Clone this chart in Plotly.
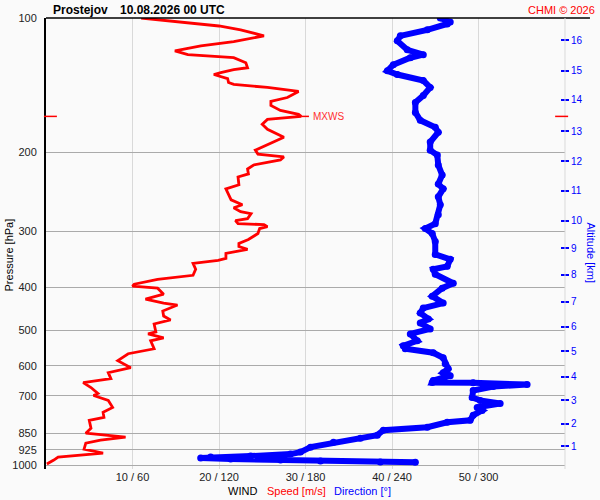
import math
import plotly.graph_objects as go

# ---------------- data ----------------
# wind speed profile [m/s] vs pressure [hPa]
speed_p = [100.0, 104.2, 106.3, 109.6, 113.0, 115.4, 118.4, 120.8, 122.7, 125.9,
           129.2, 130.5, 132.5, 133.8, 136.6, 139.4, 140.8, 143.0, 146.0, 150.6,
           153.7, 156.9, 161.0, 164.3, 166.0, 168.6, 172.9, 177.4, 184.8, 189.5,
           197.5, 201.6, 204.6, 207.8, 213.2, 217.7, 223.3, 226.8, 236.2, 241.1,
           248.6, 255.1, 261.7, 265.7, 271.2, 274.0, 281.1, 284.0, 288.4, 289.9,
           292.9, 295.8, 303.5, 313.0, 319.5, 324.4, 329.4, 332.8, 336.2, 344.9,
           348.5, 353.8, 364.9, 376.3, 384.1, 394.0, 398.1, 402.2, 414.8, 425.5,
           434.3, 438.7, 452.4, 464.2, 473.7, 483.5, 503.8, 509.0, 519.4, 527.5,
           549.5, 563.7, 584.3, 605.7, 621.4, 640.8, 654.0, 670.9, 691.8, 698.9,
           717.0, 743.1, 762.5, 782.2, 794.3, 827.6, 848.9, 866.6, 880.0, 893.5,
           921.4, 940.4, 950.1, 959.9, 974.7, 994.9]
speed_ms = [11.0, 20.0, 22.5, 25.2, 21.7, 17.9, 14.9, 16.4, 21.7, 23.1,
            23.3, 21.7, 20.2, 19.4, 21.0, 21.1, 21.7, 25.6, 29.2, 27.9,
            26.0, 26.0, 27.1, 29.2, 29.5, 25.6, 25.0, 25.6, 27.5, 26.3,
            24.2, 24.5, 27.5, 27.1, 24.0, 23.3, 23.4, 22.2, 22.3, 20.8,
            21.1, 21.4, 22.7, 21.7, 22.5, 23.7, 23.3, 21.9, 22.2, 25.2,
            25.6, 24.7, 24.5, 23.4, 22.3, 22.3, 23.3, 22.2, 20.8, 20.8,
            19.9, 17.0, 17.3, 17.0, 12.9, 10.2, 10.0, 12.9, 13.6, 11.5,
            13.6, 15.2, 13.5, 13.6, 14.4, 12.5, 12.7, 11.8, 13.6, 12.1,
            12.5, 9.5, 8.3, 9.8, 7.2, 7.5, 4.3, 5.2, 6.0, 5.5,
            7.2, 7.7, 6.6, 6.7, 5.0, 5.2, 4.6, 9.2, 6.3, 4.6,
            4.4, 6.6, 4.4, 1.4, 0.9, 0.1]

# wind direction profile [deg] vs pressure [hPa]
dir_p = [100.0, 102.1, 103.1, 106.3, 109.6, 112.5, 117.8, 120.8, 122.7, 127.2,
         131.2, 133.8, 138.0, 143.0, 149.1, 154.5, 162.6, 169.4, 175.6, 180.1,
         189.5, 197.5, 202.6, 213.2, 224.5, 235.1, 241.1, 251.2, 261.7, 275.4,
         288.4, 295.8, 303.5, 316.2, 337.9, 346.7, 359.4, 364.9, 374.3, 392.0,
         402.2, 419.0, 434.3, 445.5, 457.1, 471.2, 481.1, 496.1, 509.0, 527.5,
         541.0, 549.5, 560.8, 575.4, 593.2, 608.9, 621.4, 631.0, 647.3, 654.0,
         654.5, 660.7, 667.5, 681.1, 706.1, 717.0, 728.1, 743.1, 754.7, 774.2,
         794.3, 802.5, 823.0, 836.1, 857.5, 871.0, 889.0, 912.0, 935.7, 945.3,
         955.0, 959.9, 964.8, 969.7, 974.7, 979.7, 984.7, 985.5]
dir_deg = [273.5, 280.4, 278.3, 264.5, 245.8, 243.7, 250.6, 261.7, 252.7, 240.9,
           236.8, 243.7, 261.7, 266.5, 261.7, 256.2, 256.2, 259.6, 270.0, 272.1,
           266.5, 266.5, 271.4, 272.1, 274.8, 272.1, 275.5, 272.1, 273.5, 272.1,
           270.0, 263.1, 267.9, 270.0, 270.0, 280.4, 278.3, 268.6, 270.0, 282.5,
           274.8, 267.9, 275.5, 261.7, 259.6, 265.2, 259.6, 266.5, 252.7, 257.5,
           247.8, 249.2, 268.6, 275.5, 276.9, 279.0, 275.5, 280.4, 268.6, 267.9,
           296.3, 333.7, 310.2, 296.3, 295.6, 301.2, 315.0, 299.1, 302.5, 296.3,
           294.2, 278.3, 264.5, 234.0, 229.8, 218.1, 199.4, 183.5, 176.5, 169.6,
           141.9, 114.2, 107.3, 128.1, 162.7, 190.4, 231.9, 256.2]

# axes
pressure_ticks = [100, 200, 300, 400, 500, 600, 700, 850, 925, 1000]
speed_ticks = [10, 20, 30, 40, 50]
speed_ticktext = ["10 / 60", "20 / 120", "30 / 180", "40 / 240", "50 / 300"]
alt_km = [1, 2, 3, 4, 5, 6, 7, 8, 9, 10, 11, 12, 13, 14, 15, 16]
alt_p = [908.8, 807.8, 717.0, 634.2, 557.1, 490.2, 431.4, 374.8, 327.2, 284.0,
         243.6, 208.9, 179.4, 152.4, 131.3, 112.1]

# max wind speed level
mxws_p = 166.0
mxws_ms = 29.5

station = "Prostejov"
stamp = "10.08.2026 00 UTC"

# ---------------- figure ----------------
SPEED_MAX = 60.0
DIR_MAX = 360.0
dir_scaled = [d * SPEED_MAX / DIR_MAX for d in dir_deg]

yrange = [math.log10(1000) + 4 / 450, 2]
BG = "#fafafa"
FONT = "Liberation Sans, Arial, sans-serif"

fig = go.Figure()
fig.add_trace(go.Scatter(
    x=dir_scaled, y=dir_p, mode="lines+markers",
    line=dict(color="#0000ff", width=6),
    marker=dict(color="#0000ff", size=7),
    hoverinfo="skip", showlegend=False))
fig.add_trace(go.Scatter(
    x=speed_ms, y=speed_p, mode="lines",
    line=dict(color="#ff0000", width=2.8),
    hoverinfo="skip", showlegend=False))
# helper (invisible) trace to activate the altitude axis
fig.add_trace(go.Scatter(
    x=[speed_ms[0]], y=[speed_p[0]], yaxis="y2", mode="markers",
    marker=dict(opacity=0), hoverinfo="skip", showlegend=False))

fig.update_layout(
    width=600, height=500,
    margin=dict(l=45, r=35, t=15, b=31),
    paper_bgcolor=BG, plot_bgcolor=BG,
    font=dict(family=FONT, size=11, color="black"),
    xaxis=dict(range=[0, SPEED_MAX], tickvals=speed_ticks, ticktext=speed_ticktext,
               showgrid=True, gridcolor="#d9d9d9", gridwidth=1, zeroline=False,
               showline=False, ticks="", tickfont=dict(size=11, color="#222"),
               fixedrange=True),
    yaxis=dict(type="log", range=yrange, tickvals=pressure_ticks,
               ticktext=[str(p) for p in pressure_ticks],
               showgrid=True, gridcolor="#aaaaaa", gridwidth=1, zeroline=False,
               showline=True, linecolor="black", linewidth=2, ticks="",
               ticklabelstandoff=5, tickfont=dict(size=11, color="#222"),
               fixedrange=True),
    yaxis2=dict(type="log", range=yrange, overlaying="y", side="right",
                anchor="free", position=(560 - 45) / 520,
                tickvals=alt_p, ticktext=[str(a) for a in alt_km],
                showgrid=False, zeroline=False, showline=False,
                ticks="outside", ticklen=8, tickwidth=1.5, tickcolor="#0000ff",
                tickfont=dict(size=10, color="#0000ff"), fixedrange=True),
)

# top border (100 hPa) black, right edge light gray
fig.add_shape(type="line", xref="paper", yref="paper", x0=0, x1=(590 - 45) / 520,
              y0=1, y1=1, line=dict(color="black", width=1.5))
fig.add_shape(type="line", xref="paper", yref="paper", x0=1, x1=1,
              y0=0, y1=1, line=dict(color="#d9d9d9", width=1))

# MXWS marks
fig.add_shape(type="line", xref="paper", yref="y", x0=-0.004, x1=0.021,
              y0=mxws_p, y1=mxws_p, line=dict(color="#ff0000", width=1.5))
fig.add_shape(type="line", xref="paper", yref="y", x0=0.981, x1=1.006,
              y0=mxws_p, y1=mxws_p, line=dict(color="#ff0000", width=1.5))
fig.add_shape(type="line", xref="x", yref="y", x0=mxws_ms, x1=mxws_ms + 0.9,
              y0=mxws_p, y1=mxws_p, line=dict(color="#ff0000", width=1.5))
fig.add_annotation(x=mxws_ms, y=math.log10(mxws_p), xref="x", yref="y",
                   text="MXWS", showarrow=False, xanchor="left", xshift=10,
                   font=dict(size=10, color="#ff3030"))

# titles
def px_x(px):
    return (px - 45) / 520

def px_y(py):
    return (469 - py) / 454

fig.add_annotation(x=px_x(50), y=px_y(7), xref="paper", yref="paper", text=station,
                   showarrow=False, xanchor="left", yanchor="middle",
                   font=dict(size=12, color="black", family=FONT, weight="bold"))
fig.add_annotation(x=px_x(117), y=px_y(7), xref="paper", yref="paper", text=stamp,
                   showarrow=False, xanchor="left", yanchor="middle",
                   font=dict(size=12, color="black", family=FONT, weight="bold"))
fig.add_annotation(x=px_x(597), y=px_y(7), xref="paper", yref="paper", text="CHMI © 2026",
                   showarrow=False, xanchor="right", yanchor="middle",
                   font=dict(size=11, color="#ff0000"))
fig.add_annotation(x=px_x(8), y=px_y(254), xref="paper", yref="paper", text="Pressure [hPa]",
                   showarrow=False, textangle=-90, xanchor="center", yanchor="middle",
                   font=dict(size=11, color="black"))
fig.add_annotation(x=px_x(591), y=px_y(252), xref="paper", yref="paper", text="Altitude [km]",
                   showarrow=False, textangle=90, xanchor="center", yanchor="middle",
                   font=dict(size=11, color="#0000ff"))
fig.add_annotation(x=px_x(225), y=px_y(491), xref="paper", yref="paper", text="WIND",
                   showarrow=False, xanchor="left", yanchor="middle",
                   font=dict(size=11, color="black"))
fig.add_annotation(x=px_x(264), y=px_y(491), xref="paper", yref="paper", text="Speed [m/s]",
                   showarrow=False, xanchor="left", yanchor="middle",
                   font=dict(size=11, color="#ff0000"))
fig.add_annotation(x=px_x(332), y=px_y(491), xref="paper", yref="paper", text="Direction [°]",
                   showarrow=False, xanchor="left", yanchor="middle",
                   font=dict(size=11, color="#0000ff"))

fig.write_html("out.html", config={"displayModeBar": False},
               post_script="document.body.style.margin='0';document.body.style.overflow='hidden';")
